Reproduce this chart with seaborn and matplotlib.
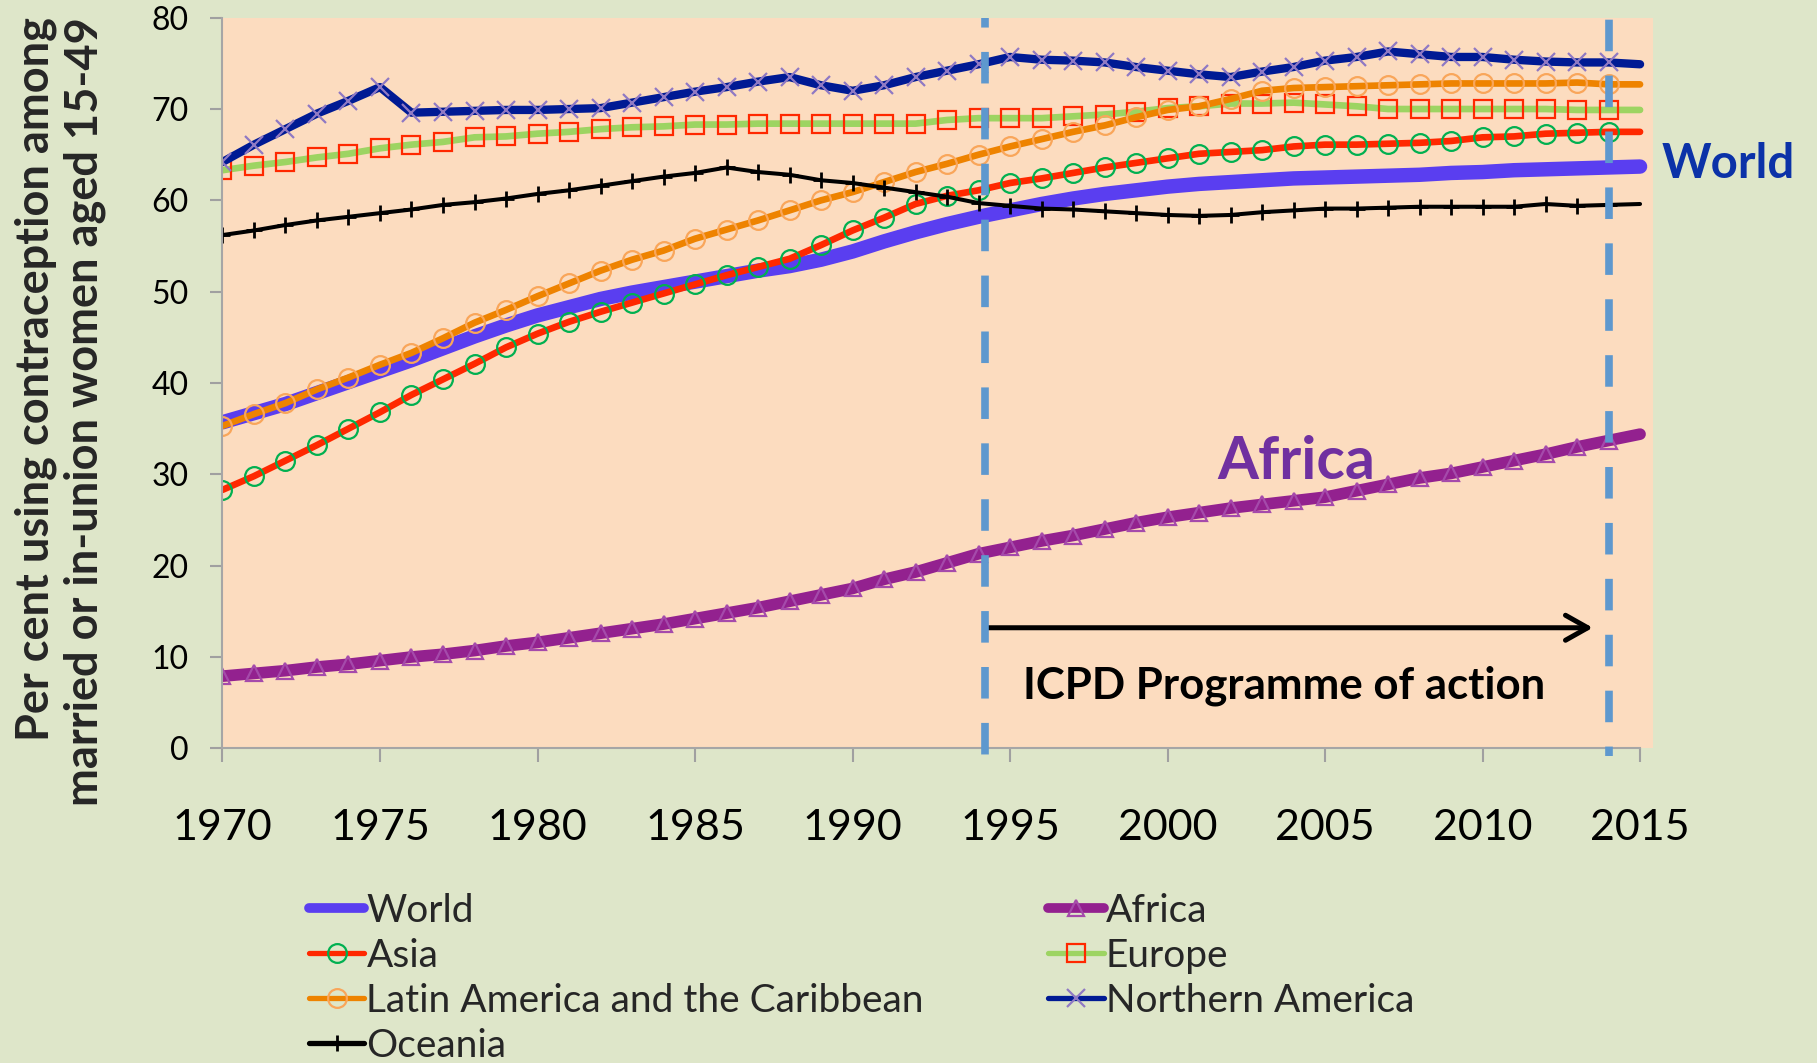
import numpy as np
import pandas as pd
import matplotlib.pyplot as plt
import seaborn as sns

# Contraceptive prevalence, per cent of married or in-union women aged 15-49
years = list(range(1970, 2016))

world = [35.7, 36.7, 37.7, 38.9, 40.1, 41.3, 42.5, 43.8, 45.1, 46.3,
         47.4, 48.3, 49.2, 49.9, 50.5, 51.1, 51.7, 52.3, 52.8, 53.5,
         54.4, 55.5, 56.5, 57.4, 58.2, 58.9, 59.6, 60.2, 60.7, 61.1,
         61.5, 61.8, 62.0, 62.2, 62.4, 62.5, 62.6, 62.7, 62.8, 63.0,
         63.1, 63.3, 63.4, 63.5, 63.6, 63.7]
africa = [7.9, 8.2, 8.5, 8.9, 9.2, 9.6, 10.0, 10.3, 10.7, 11.2,
          11.6, 12.1, 12.6, 13.1, 13.6, 14.2, 14.8, 15.4, 16.1, 16.8,
          17.5, 18.5, 19.3, 20.3, 21.3, 22.0, 22.7, 23.3, 24.0, 24.7,
          25.3, 25.8, 26.3, 26.7, 27.1, 27.5, 28.2, 28.9, 29.6, 30.1,
          30.8, 31.5, 32.2, 33.0, 33.7, 34.4]
asia = [28.3, 29.8, 31.5, 33.2, 35.0, 36.8, 38.7, 40.4, 42.1, 43.9,
        45.4, 46.7, 47.8, 48.8, 49.8, 50.8, 51.8, 52.7, 53.6, 55.1,
        56.7, 58.1, 59.6, 60.5, 61.1, 61.9, 62.4, 63.0, 63.6, 64.1,
        64.6, 65.1, 65.3, 65.5, 65.9, 66.1, 66.1, 66.2, 66.3, 66.5,
        66.9, 67.0, 67.3, 67.4, 67.5, 67.5]
europe = [63.3, 63.8, 64.2, 64.7, 65.1, 65.7, 66.1, 66.4, 66.9, 67.0,
          67.3, 67.5, 67.8, 68.0, 68.1, 68.3, 68.3, 68.4, 68.4, 68.4,
          68.4, 68.4, 68.4, 68.8, 69.0, 69.0, 69.0, 69.2, 69.4, 69.7,
          70.1, 70.3, 70.6, 70.6, 70.7, 70.5, 70.3, 70.0, 70.0, 70.0,
          70.0, 70.0, 70.0, 69.9, 69.9, 69.9]
latin_america = [35.3, 36.6, 37.8, 39.3, 40.6, 42.0, 43.3, 44.9, 46.6, 48.0,
                 49.5, 50.9, 52.3, 53.5, 54.5, 55.8, 56.8, 57.8, 58.9, 60.0,
                 60.9, 62.0, 63.1, 64.0, 65.0, 65.9, 66.7, 67.5, 68.2, 69.1,
                 69.9, 70.3, 71.1, 72.0, 72.3, 72.4, 72.5, 72.6, 72.7, 72.8,
                 72.8, 72.8, 72.8, 72.9, 72.7, 72.7]
northern_america = [64.2, 66.1, 67.8, 69.5, 70.9, 72.4, 69.6, 69.7, 69.8, 69.9,
                    69.9, 70.0, 70.1, 70.7, 71.3, 71.9, 72.4, 73.0, 73.5, 72.6,
                    72.0, 72.6, 73.5, 74.2, 74.9, 75.7, 75.4, 75.3, 75.1, 74.6,
                    74.2, 73.8, 73.5, 74.1, 74.6, 75.3, 75.7, 76.3, 76.0, 75.7,
                    75.7, 75.4, 75.2, 75.1, 75.1, 74.9]
oceania = [56.2, 56.7, 57.3, 57.8, 58.2, 58.6, 59.0, 59.5, 59.8, 60.2,
           60.7, 61.1, 61.6, 62.1, 62.6, 63.0, 63.6, 63.1, 62.8, 62.2,
           61.9, 61.4, 60.9, 60.4, 59.7, 59.4, 59.1, 59.0, 58.8, 58.6,
           58.4, 58.3, 58.4, 58.7, 58.9, 59.1, 59.1, 59.2, 59.3, 59.3,
           59.3, 59.3, 59.6, 59.4, 59.5, 59.6]

icpd_start, icpd_end = 1994.2, 2014.0

bg_green = "#DEE6C9"
peach = "#FCDCBF"

sns.set_theme(style="ticks")
plt.rcParams['font.family'] = ['Lato', 'DejaVu Sans']

fig = plt.figure(figsize=(18.17, 10.63), dpi=100, facecolor=bg_green)
ax = fig.add_axes([0.12245, 0.29605, 0.7871, 0.6873])
ax.set_facecolor(peach)

open_marker = dict(markerfacecolor="none", markeredgewidth=1.6)
series = [
    ("World", world, dict(color="#5A3EF0", linewidth=10.4)),
    ("Africa", africa, dict(color="#93218F", linewidth=8.4, marker="^", markersize=11,
                            markeredgecolor="#A54AAB", **open_marker)),
    ("Asia", asia, dict(color="#FF2800", linewidth=4.8, marker="o", markersize=13.5,
                        markeredgecolor="#00B050", **open_marker)),
    ("Europe", europe, dict(color="#9DD462", linewidth=4.8, marker="s", markersize=13,
                            markeredgecolor="#FF2800", **open_marker)),
    ("Latin America and the Caribbean", latin_america,
     dict(color="#EE8300", linewidth=4.8, marker="o", markersize=13.5,
          markeredgecolor="#F9A65A", **open_marker)),
    ("Northern America", northern_america,
     dict(color="#001A94", linewidth=6, marker="x", markersize=13,
          markeredgecolor="#8F79C4", markeredgewidth=1.6)),
    ("Oceania", oceania, dict(color="black", linewidth=2.9, marker="+", markersize=12,
                              markeredgecolor="black", markeredgewidth=2)),
]

for name, vals, style in series:
    sns.lineplot(x=years, y=vals, ax=ax, label=name, legend=False,
                 markevery=slice(0, len(years) - 1), **style)

# ICPD period markers
dash_kw = dict(color="#5E98CE", linewidth=5.5, clip_on=False, zorder=5)
ax.plot([icpd_start, icpd_start], [80, -0.8], linestyle=(2.88, (4.13, 3.19)), **dash_kw)
ax.plot([icpd_end, icpd_end], [80, -0.8], linestyle=(7.1, (4.13, 3.19)), **dash_kw)
ax.annotate("", xy=(2013.5, 13.2), xytext=(icpd_start, 13.2),
            arrowprops=dict(arrowstyle="->,head_length=0.8,head_width=0.45", lw=3.6,
                            color="black", shrinkA=0, shrinkB=0, mutation_scale=20))

ax.text(2003.7, 5.4, "ICPD Programme of action", fontsize=31.5, fontweight="bold",
        ha="center", va="baseline", color="black")
ax.text(2004.1, 29.5, "Africa", fontsize=42.5, fontweight="bold", color="#7030A0",
        ha="center", va="baseline")
ax.text(2017.8, 62.4, "World", fontsize=34, fontweight="bold", color="#0B32A8",
        ha="center", va="baseline", clip_on=False)

ax.set_xlim(1970, 2015.4)
ax.set_ylim(0, 80)
ax.set_xticks(range(1970, 2016, 5))
ax.set_yticks(range(0, 81, 10))
ax.set_xlabel("")
ax.set_ylabel("")
ax.tick_params(axis="y", labelsize=23, length=8.6, width=1.5, color="#A0A0A0",
               pad=16, left=True, labelcolor="black")
ax.tick_params(axis="x", labelsize=31, length=10, width=1.5, color="#A0A0A0",
               pad=34, bottom=True, labelcolor="black")
for side in ["top", "right"]:
    ax.spines[side].set_visible(False)
for side in ["left", "bottom"]:
    ax.spines[side].set_color("#A6A6A6")
    ax.spines[side].set_linewidth(1.5)
ax.spines["bottom"].set_bounds(1970, 2015)

fig.text(0.0330, 0.9836,
         "Per cent using contraception among\nmarried or in-union women aged 15-49",
         rotation=90, ha="center", va="top", multialignment="right",
         fontsize=32.5, fontweight="bold", linespacing=1.18)

handles, labels = ax.get_legend_handles_labels()
lookup = dict(zip(labels, handles))
order = ["World", "Asia", "Latin America and the Caribbean", "Oceania",
         "Africa", "Europe", "Northern America"]
leg = fig.legend([lookup[k] for k in order], order, loc="upper left",
                 bbox_to_anchor=(0.170, 0.160), ncol=2, frameon=False, fontsize=28,
                 handlelength=1.42, handletextpad=0.06, columnspacing=3.2,
                 labelspacing=0.23, borderpad=0, borderaxespad=0)
for line, name in zip(leg.get_lines(), order):
    line.set_linewidth(7 if name in ("World", "Africa") else 3.8)
    line.set_solid_capstyle("round")

fig.savefig("out.png", dpi=100, facecolor=bg_green)
